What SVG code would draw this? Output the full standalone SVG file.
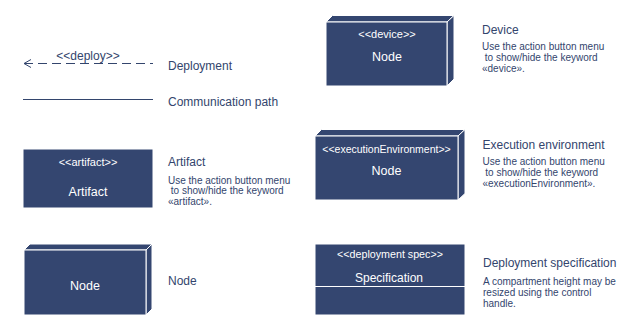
<svg xmlns="http://www.w3.org/2000/svg" width="640" height="329" viewBox="0 0 640 329">
<style>
text{font-family:"Liberation Sans",Arial,sans-serif}
.box{fill:#344670;stroke:#ffffff;stroke-width:1}
.in{fill:#ffffff;text-anchor:middle}
.st{font-size:11px}
.nm{font-size:12.5px}
.hd{fill:#33456d;font-size:12px}
.ds{fill:#33456d;font-size:10px}
.ln{stroke:#33456d;stroke-width:1;fill:none}
</style>
<rect width="640" height="329" fill="#ffffff"/>
<g id="connectors">
<g id="deployment-edge">
<line class="ln" x1="24" y1="63.5" x2="153" y2="63.5" stroke-dasharray="9,5"/>
<polyline class="ln" points="31,59.5 24,63.5 31,67.5"/>
<text class="hd" x="88" y="59.5" text-anchor="middle" font-size="11">&lt;&lt;deploy&gt;&gt;</text>
</g>
<g id="communication-path">
<line class="ln" x1="23" y1="99.5" x2="153" y2="99.5"/>
</g>
</g>
<text class="hd" x="168" y="70">Deployment</text>
<text class="hd" x="168" y="106">Communication path</text>

<g id="artifact">
<rect class="box" x="23" y="149" width="130" height="59" stroke="none"/>
<text class="in st" x="88" y="166">&lt;&lt;artifact&gt;&gt;</text>
<text class="in nm" x="88" y="196">Artifact</text>
</g>
<text class="hd" x="168" y="166">Artifact</text>
<text class="ds" x="168" y="183.5">Use the action button menu</text>
<text class="ds" x="168" y="194" xml:space="preserve"> to show/hide the keyword</text>
<text class="ds" x="168" y="204.5">«artifact».</text>

<g id="node">
<polygon class="box" points="24,250 30,244 152,244 146,250"/>
<polygon class="box" points="146,250 152,244 152,309 146,315"/>
<rect class="box" x="24" y="250" width="122" height="65"/>
<text class="in nm" x="85" y="289.5">Node</text>
</g>
<text class="hd" x="168" y="285">Node</text>

<g id="device">
<polygon class="box" points="326,22 332.5,15.5 454,15.5 447,22"/>
<polygon class="box" points="447,22 454,15.5 454,79 447,86"/>
<rect class="box" x="326" y="22" width="121" height="64"/>
<text class="in st" x="387" y="38">&lt;&lt;device&gt;&gt;</text>
<text class="in nm" x="387" y="61">Node</text>
</g>
<text class="hd" x="482" y="33.5">Device</text>
<text class="ds" x="482" y="50">Use the action button menu</text>
<text class="ds" x="482" y="61" xml:space="preserve"> to show/hide the keyword</text>
<text class="ds" x="482" y="72">«device».</text>

<g id="execution-environment">
<polygon class="box" points="315,136 321.5,129.5 465,129.5 458,136"/>
<polygon class="box" points="458,136 465,129.5 465,193.5 458,200"/>
<rect class="box" x="315" y="136" width="143" height="64"/>
<text class="in" x="386.5" y="152.5" font-size="10.5">&lt;&lt;executionEnvironment&gt;&gt;</text>
<text class="in nm" x="386.5" y="175">Node</text>
</g>
<text class="hd" x="482.5" y="148.5">Execution environment</text>
<text class="ds" x="482.5" y="165">Use the action button menu</text>
<text class="ds" x="482.5" y="176" xml:space="preserve"> to show/hide the keyword</text>
<text class="ds" x="482.5" y="187">«executionEnvironment».</text>

<g id="deployment-specification">
<rect class="box" x="315" y="244" width="150" height="71" stroke="none"/>
<line x1="315" y1="286.5" x2="465" y2="286.5" stroke="#ffffff" stroke-width="1"/>
<text class="in" x="390" y="258" font-size="10.7">&lt;&lt;deployment spec&gt;&gt;</text>
<text class="in" x="389" y="282" font-size="12">Specification</text>
</g>
<text class="hd" x="483" y="267">Deployment specification</text>
<text class="ds" x="483" y="285">A compartment height may be</text>
<text class="ds" x="483" y="296">resized using the control</text>
<text class="ds" x="483" y="307">handle.</text>
</svg>
